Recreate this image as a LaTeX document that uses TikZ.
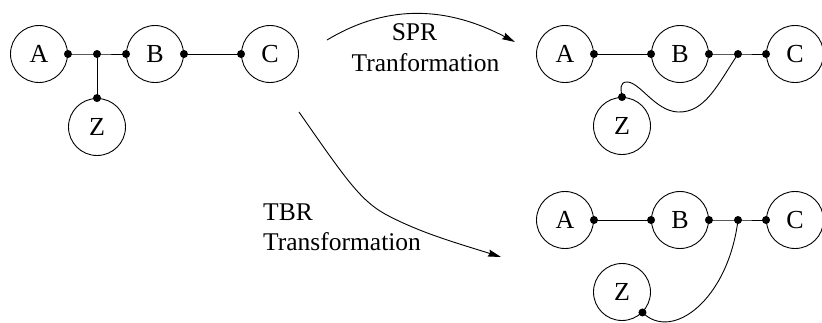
\documentclass[tikz,border=0pt]{standalone}
\usepackage{fontspec}
\setmainfont{Liberation Serif}
\usetikzlibrary{arrows.meta}
\begin{document}
\begin{tikzpicture}[x=1pt,y=-1pt,
  leaf/.style={circle,draw,line width=0.9pt,minimum size=57pt,inner sep=0pt,font=\fontsize{26}{30}\selectfont},
  lbl/.style={inner sep=0pt,font=\fontsize{25.5}{30}\selectfont},
  edge/.style={line width=0.9pt},
  arr/.style={line width=0.9pt,-{Stealth[length=13pt,width=7pt,inset=1.5pt]}},
  dotfill/.style={fill=black}]
\useasboundingbox (0,0) rectangle (822,322);
% ---- original tree ----
\node[leaf] (A1) at (39,54) {A};
\node[leaf] (B1) at (155,54) {B};
\node[leaf] (C1) at (270,54) {C};
\node[leaf] (Z1) at (97,127) {Z};
\coordinate (J1) at (97,54);
\draw[edge] (A1.east) -- (J1) -- (B1.west);
\draw[edge] (J1) -- (Z1.north);
\draw[edge] (B1.east) -- (C1.west);
\foreach \p in {A1.east,J1,B1.west,B1.east,C1.west,Z1.north}
  \fill[dotfill] (\p) circle[radius=4pt];
% ---- SPR tree ----
\node[leaf] (A2) at (565,54) {A};
\node[leaf] (B2) at (680,54) {B};
\node[leaf] (C2) at (795,54) {C};
\node[leaf] (Z2) at (622,126) {Z};
\coordinate (J2) at (738,54);
\draw[edge] (A2.east) -- (B2.west);
\draw[edge] (B2.east) -- (J2) -- (C2.west);
\draw[edge] (J2) .. controls (718,84) and (705,113) .. (678,112)
  .. controls (655,111) and (640,82) .. (627,82)
  .. controls (619,82) and (621,90) .. (Z2.north);
\foreach \p in {A2.east,B2.west,B2.east,J2,C2.west,Z2.north}
  \fill[dotfill] (\p) circle[radius=4pt];
% ---- TBR tree ----
\node[leaf] (A3) at (565,220) {A};
\node[leaf] (B3) at (680,220) {B};
\node[leaf] (C3) at (795,220) {C};
\node[leaf] (Z3) at (622,292) {Z};
\coordinate (J3) at (738,220);
\draw[edge] (Z3.-45) .. controls (672,342) and (728,300) .. (J3);
\draw[edge] (A3.east) -- (B3.west);
\draw[edge] (B3.east) -- (J3) -- (C3.west);
\foreach \p in {A3.east,B3.west,B3.east,J3,C3.west,Z3.-45}
  \fill[dotfill] (\p) circle[radius=4pt];
% ---- arrows ----
\coordinate (s1) at (327,40);
\coordinate (s2) at (515,42);
\draw[arr] (s1) .. controls (390,2) and (450,8) .. (s2);
\node[lbl,anchor=base] (spr) at (414.5,40) {SPR};
\node[lbl,anchor=base] (sprt) at (425.5,71) {Tranformation};
\coordinate (t1) at (299,112);
\coordinate (t2) at (501,257);
\draw[arr] (t1) .. controls (345,178) and (360,200) .. (385,214)
  .. controls (420,233) and (460,244) .. (t2);
\node[lbl,anchor=base west] (tbr) at (263,220) {TBR};
\node[lbl,anchor=base west] (tbrt) at (263,250.5) {Transformation};
\end{tikzpicture}
\end{document}
